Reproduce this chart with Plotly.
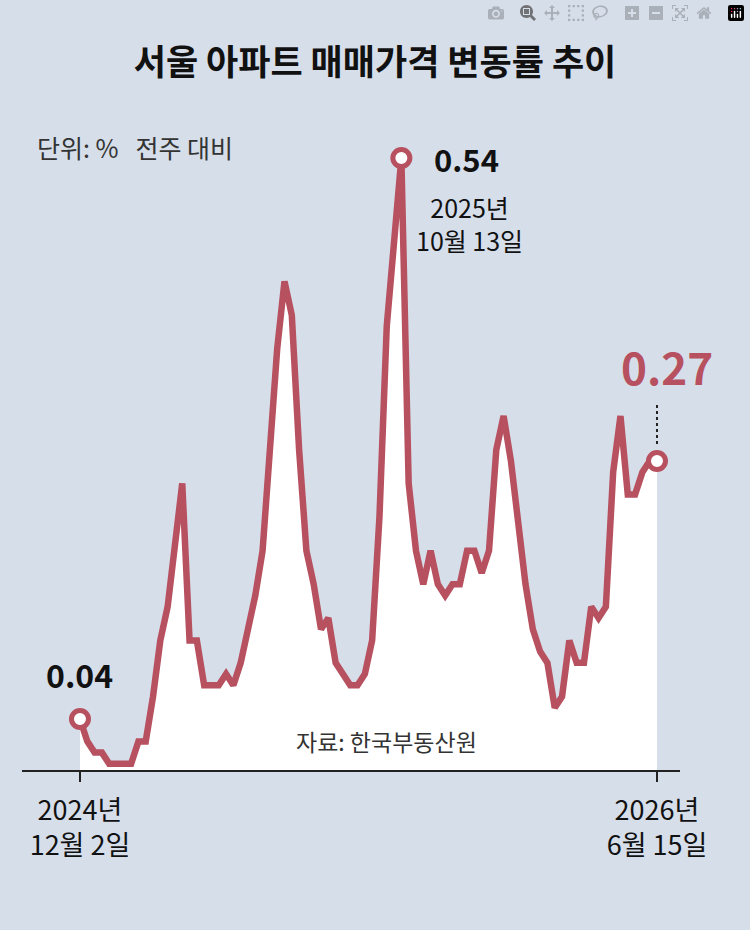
import plotly.graph_objects as go

values = [0.04,0.02,0.01,0.01,0.00,0.00,0.00,0.00,0.02,0.02,
          0.06,0.11,0.14,0.19,0.25,0.11,0.11,0.07,0.07,0.07,
          0.08,0.07,0.09,0.12,0.15,0.19,0.28,0.37,0.43,0.40,
          0.28,0.19,0.16,0.12,0.13,0.09,0.08,0.07,0.07,0.08,
          0.11,0.22,0.39,0.46,0.54,0.25,0.19,0.16,0.19,0.16,
          0.15,0.16,0.16,0.19,0.19,0.17,0.19,0.28,0.31,0.27,
          0.21,0.16,0.12,0.10,0.09,0.05,0.06,0.11,0.09,0.09,
          0.14,0.13,0.14,0.26,0.31,0.24,0.24,0.26,0.27,0.27]
idx = list(range(len(values)))
tick_labels = ["2024년<br>12월 2일", "2026년<br>6월 15일"]
ann_idx = [0, 44, 79]

RED = "#b7505f"
BG = "#d6deea"
base = -0.0055
fig = go.Figure()
fig.add_trace(go.Scatter(x=idx, y=[base]*len(idx), mode="lines", line=dict(width=0), hoverinfo="skip"))
fig.add_trace(go.Scatter(x=idx, y=values, mode="lines", fill="tonexty", fillcolor="white",
                         line=dict(color=RED, width=6.5)))
fig.add_trace(go.Scatter(x=ann_idx, y=[values[i] for i in ann_idx], mode="markers",
                         marker=dict(size=17, color="white", line=dict(color=RED, width=5))))
fig.update_layout(
    width=750, height=930, showlegend=False, paper_bgcolor=BG, plot_bgcolor=BG,
    margin=dict(l=22, r=70, t=100, b=160),
    font=dict(family="Noto Sans CJK KR", color="#111"),
    title=dict(text="<b>서울 아파트 매매가격 변동률 추이</b>", x=0.5, xanchor="center",
               y=0.933, yanchor="middle", yref="container", font=dict(size=35, color="#111")),
    xaxis=dict(range=[-7.94, 82.15], showgrid=False, zeroline=False, showline=True, linecolor="#222",
               linewidth=1.5, ticks="outside", ticklen=10, tickcolor="#222", tickwidth=1.5,
               ticklabelstandoff=6,
               tickvals=[0, 79], ticktext=tick_labels, tickfont=dict(size=27, color="#111")),
    yaxis=dict(range=[base, 0.5917], visible=False),
)
A = [
    dict(x=0.02, y=0.96, xref="paper", yref="paper", xanchor="left", text="단위: %   전주 대비", font=dict(size=25, color="#333")),
    dict(x=0, y=0.04, text="<b>0.04</b>", yshift=45, font=dict(size=32)),
    dict(x=44, y=0.54, text="<b>0.54</b>", xshift=65, font=dict(size=31)),
    dict(x=44, y=0.54, text="2025년<br>10월 13일", xshift=68, yshift=-65, font=dict(size=25)),
    dict(x=79, y=0.27, text="<b>0.27</b>", xshift=10, yshift=95, font=dict(size=44, color=RED)),
    dict(x=42, y=0.02, text="자료: 한국부동산원", font=dict(size=23, color="#333")),
]
for a in A:
    a.setdefault("xref", "x"); a.setdefault("yref", "y")
    a["showarrow"] = False
fig.update_layout(annotations=A)
fig.add_shape(type="line", x0=79, x1=79, y0=0.285, y1=0.32, line=dict(color="#222", width=2, dash="dot"))
fig.write_html("out.html", post_script="document.body.style.margin='0';document.body.style.background='#d6deea';")
